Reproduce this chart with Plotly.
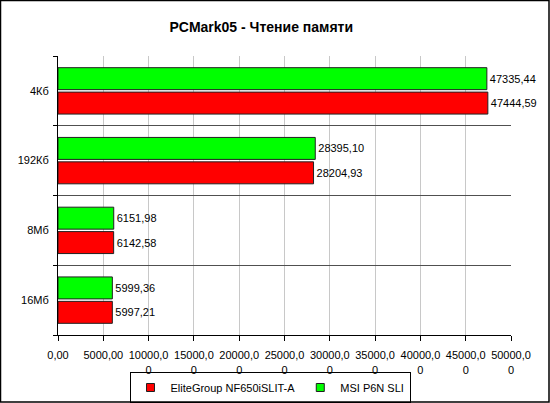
import plotly.graph_objects as go

categories = ["16Мб", "8Мб", "192Кб", "4Кб"]
elitegroup = [5997.21, 6142.58, 28204.93, 47444.59]
msi = [5999.36, 6151.98, 28395.10, 47335.44]
series_names = ["EliteGroup NF650iSLIT-A", "MSI P6N SLI"]
series_colors = ["#FF0000", "#00FF00"]
tick_vals = [0, 5000, 10000, 15000, 20000, 25000, 30000, 35000, 40000, 45000, 50000]
tick_text = ["0,00", "5000,00", "10000,0<br>0", "15000,0<br>0", "20000,0<br>0", "25000,0<br>0",
             "30000,0<br>0", "35000,0<br>0", "40000,0<br>0", "45000,0<br>0", "50000,0<br>0"]

def fmt(v):
    return f"{v:.2f}".replace(".", ",")

FONT = "Liberation Sans, Arial, sans-serif"
W, H = 550, 403
L, R, T, B = 58, 39, 56, 68
pw, ph = W - L - R, H - T - B

fig = go.Figure()
for name, vals, col in zip(series_names, [elitegroup, msi], series_colors):
    fig.add_trace(go.Bar(
        y=categories, x=vals, name=name, orientation="h", showlegend=False,
        marker=dict(color=col, line=dict(color="#202020", width=1)),
        text=[fmt(v) for v in vals], textposition="outside",
        textfont=dict(family=FONT, size=11, color="#000000"),
        cliponaxis=False,
    ))
# legend entries with small square swatches
for name, col in zip(series_names, series_colors):
    fig.add_trace(go.Scatter(
        x=[None], y=[None], mode="markers", name=name,
        marker=dict(symbol="square", size=8, color=col, line=dict(color="#202020", width=1)),
    ))

def px_x(p):
    return (p - L) / pw

def px_y(p):
    return (H - B - p) / ph

fig.update_layout(
    width=W, height=H,
    margin=dict(l=L, r=R, t=T, b=B, autoexpand=False),
    paper_bgcolor="#FFFFFF", plot_bgcolor="#FFFFFF",
    barmode="group", bargap=0.3, bargroupgap=0.1,
    font=dict(family=FONT, size=11, color="#000000"),
    title=dict(text="<b>PCMark05 - Чтение памяти</b>", x=0.475, xanchor="center", y=0.933, yanchor="middle",
               font=dict(family=FONT, size=14, color="#000000")),
    xaxis=dict(range=[0, 50000], tickvals=tick_vals, ticktext=tick_text,
               showgrid=True, gridcolor="#C8C8C8", gridwidth=1,
               showline=True, linecolor="#000000", linewidth=1,
               ticks="outside", ticklen=5, tickcolor="#000000", ticklabelstandoff=5,
               zeroline=False, tickfont=dict(family=FONT, size=11)),
    yaxis=dict(type="category", categoryorder="array", categoryarray=categories,
               tickson="boundaries", showgrid=True, gridcolor="#505050", gridwidth=1,
               showline=True, linecolor="#000000", linewidth=1,
               ticks="outside", ticklen=4, tickcolor="#000000",
               ticklabelstandoff=6, tickfont=dict(family=FONT, size=11)),
    legend=dict(orientation="h", x=px_x(270), xanchor="center", y=px_y(372), yanchor="top",
                bordercolor="#000000", borderwidth=1, bgcolor="rgba(0,0,0,0)",
                font=dict(family=FONT, size=11), itemwidth=30, traceorder="normal",
                tracegroupgap=0),
    showlegend=True,
    shapes=[dict(type="rect", xref="paper", yref="paper",
                 x0=px_x(0.5), x1=px_x(549), y0=px_y(402), y1=px_y(0.5),
                 line=dict(color="#000000", width=1.5), layer="above")],
)

fig.write_html("out.html")
